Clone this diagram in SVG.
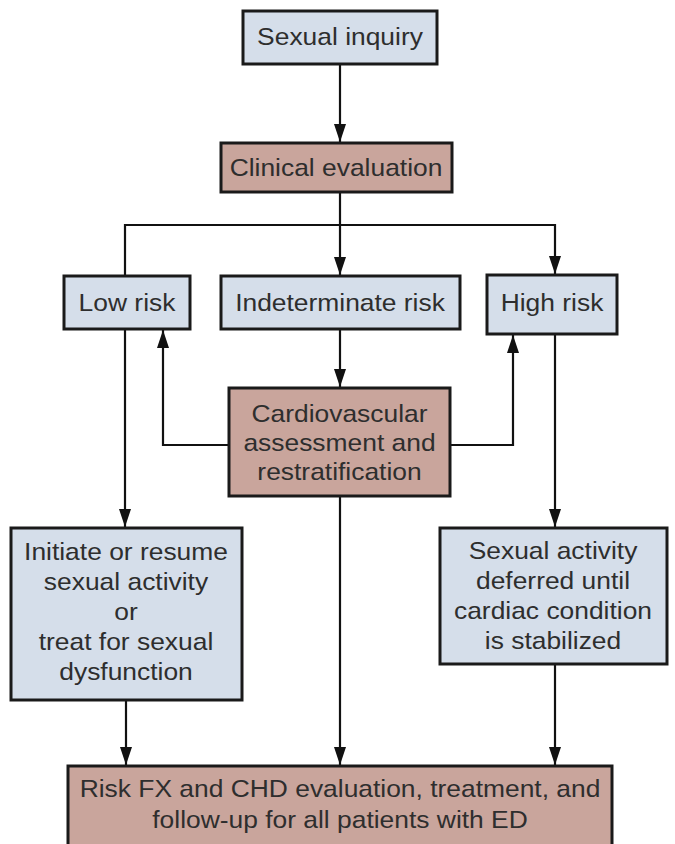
<svg xmlns="http://www.w3.org/2000/svg" width="675" height="844" viewBox="0 0 675 844">
<defs>
<marker id="ah" viewBox="0 0 18 12" refX="18" refY="6" markerWidth="18" markerHeight="12" markerUnits="userSpaceOnUse" orient="auto">
<path d="M0,0 L18,6 L0,12 z" fill="#111"/>
</marker>
<style>
.blue{fill:#d5deea;stroke:#1a1a1a;stroke-width:3}
.pink{fill:#c9a59c;stroke:#1a1a1a;stroke-width:3}
text{font-family:"Liberation Sans",Arial,sans-serif;font-size:24px;fill:#2e2e2e;text-anchor:middle}
.c{fill:none;stroke:#111;stroke-width:2.2}
</style>
</defs>
<rect width="675" height="844" fill="#fff"/>
<g id="connectors">
<line class="c" x1="340" y1="64" x2="340" y2="142" marker-end="url(#ah)"/>
<polyline class="c" points="340,192 340,225"/>
<polyline class="c" points="125,275 125,225 555,225 555,274" marker-end="url(#ah)"/>
<line class="c" x1="340" y1="225" x2="340" y2="275" marker-end="url(#ah)"/>
<line class="c" x1="340" y1="329" x2="340" y2="387" marker-end="url(#ah)"/>
<polyline class="c" points="229,445 163,445 163,330" marker-end="url(#ah)"/>
<polyline class="c" points="450,445 513,445 513,335" marker-end="url(#ah)"/>
<line class="c" x1="125" y1="329" x2="125" y2="527" marker-end="url(#ah)"/>
<line class="c" x1="555" y1="334" x2="555" y2="527" marker-end="url(#ah)"/>
<line class="c" x1="126" y1="700" x2="126" y2="765" marker-end="url(#ah)"/>
<line class="c" x1="340" y1="496" x2="340" y2="765" marker-end="url(#ah)"/>
<line class="c" x1="555" y1="664" x2="555" y2="765" marker-end="url(#ah)"/>
</g>
<g id="sexual-inquiry">
<rect class="blue" x="243" y="11" width="194" height="53"/>
<text transform="translate(340,45) scale(1.1,1)">Sexual inquiry</text>
</g>
<g id="clinical-evaluation">
<rect class="pink" x="221" y="143" width="231" height="49"/>
<text transform="translate(336,176) scale(1.1,1)">Clinical evaluation</text>
</g>
<g id="low-risk">
<rect class="blue" x="64" y="276" width="126" height="53"/>
<text transform="translate(127,311) scale(1.1,1)">Low risk</text>
</g>
<g id="indeterminate-risk">
<rect class="blue" x="221" y="276" width="239" height="53"/>
<text transform="translate(340,311) scale(1.1,1)">Indeterminate risk</text>
</g>
<g id="high-risk">
<rect class="blue" x="487" y="275" width="130" height="59"/>
<text transform="translate(552,311) scale(1.1,1)">High risk</text>
</g>
<g id="cardiovascular-assessment">
<rect class="pink" x="229" y="388" width="221" height="108"/>
<text transform="translate(339.5,422) scale(1.1,1)">Cardiovascular</text>
<text transform="translate(339.5,451) scale(1.1,1)">assessment and</text>
<text transform="translate(339.5,480) scale(1.1,1)">restratification</text>
</g>
<g id="initiate-resume">
<rect class="blue" x="11" y="528" width="231" height="172"/>
<text transform="translate(126,560) scale(1.1,1)">Initiate or resume</text>
<text transform="translate(126,590) scale(1.1,1)">sexual activity</text>
<text transform="translate(126,620) scale(1.1,1)">or</text>
<text transform="translate(126,650) scale(1.1,1)">treat for sexual</text>
<text transform="translate(126,680) scale(1.1,1)">dysfunction</text>
</g>
<g id="sexual-activity-deferred">
<rect class="blue" x="440" y="528" width="227" height="136"/>
<text transform="translate(553,559) scale(1.1,1)">Sexual activity</text>
<text transform="translate(553,589) scale(1.1,1)">deferred until</text>
<text transform="translate(553,619) scale(1.1,1)">cardiac condition</text>
<text transform="translate(553,649) scale(1.1,1)">is stabilized</text>
</g>
<g id="risk-fx-evaluation">
<rect class="pink" x="68" y="766" width="544" height="90"/>
<text transform="translate(340,797) scale(1.1,1)">Risk FX and CHD evaluation, treatment, and</text>
<text transform="translate(340,828) scale(1.1,1)">follow-up for all patients with ED</text>
</g>
</svg>
